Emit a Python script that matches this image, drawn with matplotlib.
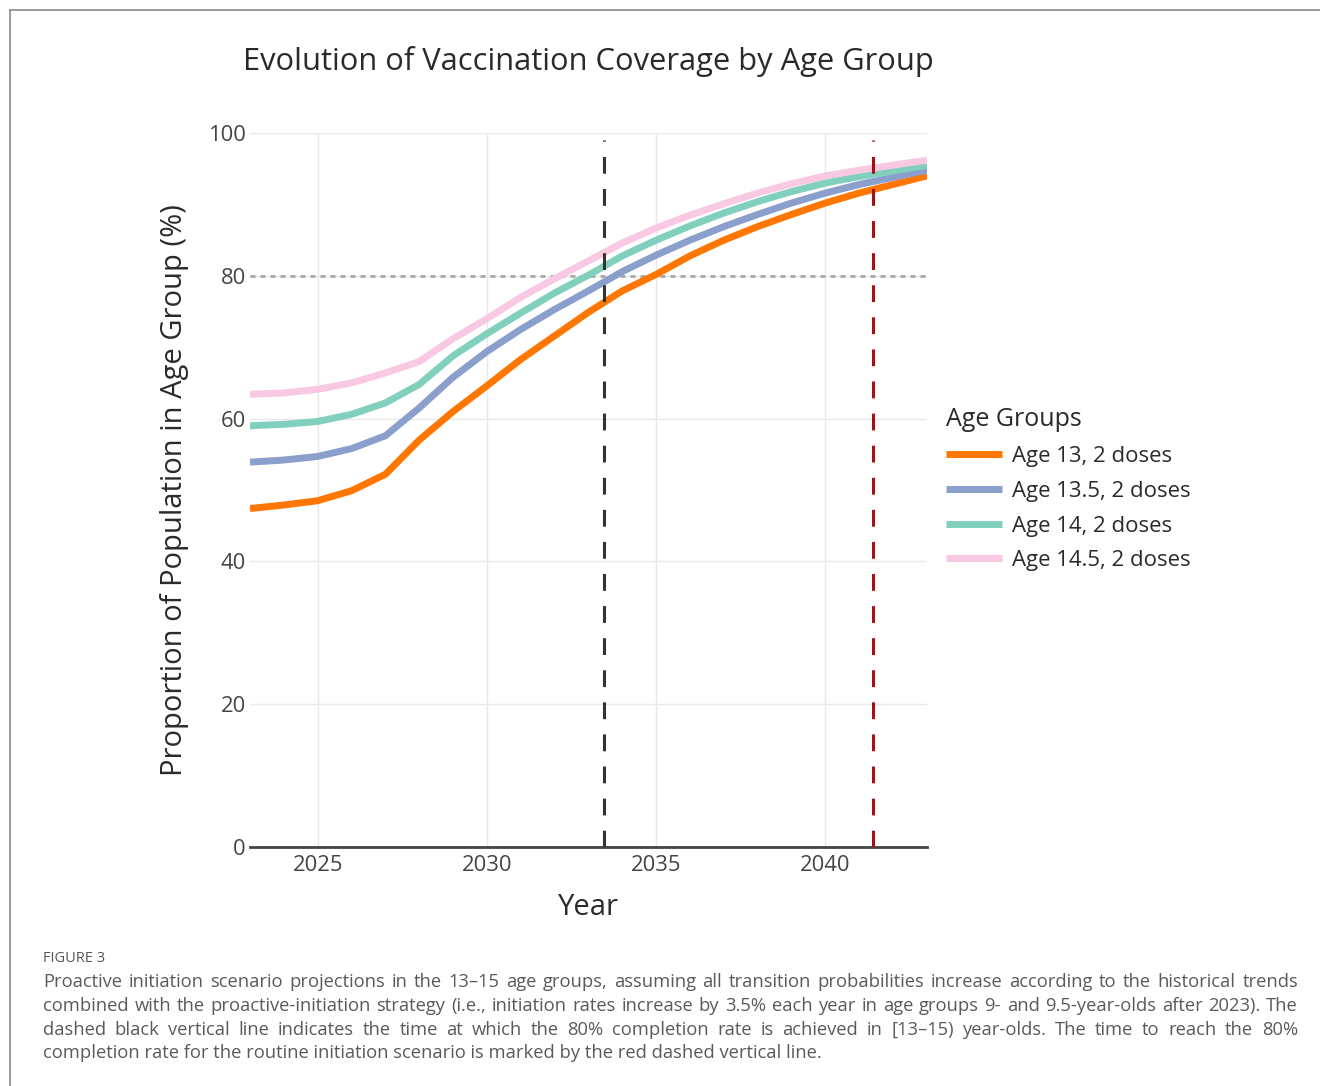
import numpy as np
import matplotlib
matplotlib.use('Agg')
import matplotlib.pyplot as plt
from matplotlib.lines import Line2D

plt.rcParams['font.family'] = ['Open Sans', 'DejaVu Sans']

years = np.arange(2023, 2044)
age13 = [47.4, 47.9, 48.5, 49.9, 52.2, 57.0, 61.0, 64.6, 68.3, 71.6, 74.9,
         77.9, 80.2, 82.8, 85.0, 86.9, 88.6, 90.2, 91.6, 92.8, 94.0]
age13_5 = [53.9, 54.2, 54.7, 55.8, 57.6, 61.5, 65.8, 69.4, 72.5, 75.3, 77.9,
           80.6, 82.9, 85.0, 86.9, 88.6, 90.2, 91.6, 92.8, 93.8, 94.8]
age14 = [59.0, 59.2, 59.6, 60.6, 62.2, 64.8, 68.8, 71.9, 74.8, 77.6, 80.1,
         82.8, 85.0, 87.0, 88.8, 90.4, 91.8, 93.0, 93.9, 94.7, 95.5]
age14_5 = [63.4, 63.6, 64.1, 65.0, 66.4, 68.0, 71.2, 74.0, 77.0, 79.6, 82.1,
           84.6, 86.7, 88.5, 90.1, 91.6, 92.9, 94.0, 94.8, 95.5, 96.2]
labels = ['Age 13, 2 doses', 'Age 13.5, 2 doses', 'Age 14, 2 doses', 'Age 14.5, 2 doses']
colors = ['#ff7700', '#8a9fcc', '#80d0bd', '#f9c8e2']
target = 80
proactive_year = 2033.45
routine_year = 2041.4

fig = plt.figure(figsize=(13.2, 10.86), dpi=100)
ax = fig.add_axes([0.1894, 0.2201, 0.5129, 0.6574])

for vals, lab, col in zip([age13, age13_5, age14, age14_5], labels, colors):
    ax.plot(years, vals, color=col, lw=5, label=lab, solid_capstyle='butt', zorder=3)

ax.axhline(target, color='#a8a8a8', lw=2, ls=(0, (1.8, 1.8)), zorder=2)
ax.axvline(proactive_year, ymin=0, ymax=0.99, color='#333333', lw=2.2,
           ls=(0, (5.5, 5)), zorder=4)
ax.axvline(routine_year, ymin=0, ymax=0.99, color='#a50f15', lw=2.2,
           ls=(0, (5.5, 5)), zorder=4)

ax.set_xlim(2023, 2043)
ax.set_ylim(0, 100)
ax.set_xticks([2025, 2030, 2035, 2040])
ax.set_yticks([0, 20, 40, 60, 80, 100])
ax.grid(True, color='#e9e9e9', lw=1)
ax.set_axisbelow(True)
for s in ['top', 'right', 'left']:
    ax.spines[s].set_visible(False)
ax.spines['bottom'].set_color('#444444')
ax.spines['bottom'].set_linewidth(2)
ax.tick_params(axis='x', length=0, pad=6, labelsize=15.8, labelcolor='#444444')
ax.tick_params(axis='y', length=0, pad=3, labelsize=15.8, labelcolor='#444444')

ax.set_xlabel('Year', fontsize=21, color='#2a2a2a', labelpad=12)
ax.set_ylabel('Proportion of Population in Age Group (%)', fontsize=21,
              color='#2a2a2a', labelpad=14)
fig.text(0.4455, 0.943, 'Evolution of Vaccination Coverage by Age Group',
         ha='center', va='center', fontsize=22.2, color='#2a2a2a')

leg = ax.legend(loc='upper left', bbox_to_anchor=(1.015, 0.628), frameon=False,
                fontsize=15.9, title='Age Groups', title_fontsize=18,
                handlelength=2.55, handletextpad=0.45, labelspacing=0.62,
                borderaxespad=0)
leg._legend_box.align = 'left'
for t in leg.get_texts():
    t.set_color('#2a2a2a')
leg.get_title().set_color('#2a2a2a')
for h in leg.legend_handles:
    h.set_linewidth(5)

# page frame
fig.add_artist(Line2D([0.0078, 0.0078], [0, 0.991], color='#8a8a8a', lw=1.2))
fig.add_artist(Line2D([0.0078, 1], [0.991, 0.991], color='#8a8a8a', lw=1.2))

# caption, justified line by line
fig.text(43 / 1320, 1 - 958 / 1086, 'FIGURE 3', fontsize=10.5, color='#555555',
         va='center', ha='left')
cap_lines = [
    'Proactive initiation scenario projections in the 13\u201315 age groups, assuming all transition probabilities increase according to the historical trends',
    'combined with the proactive-initiation strategy (i.e., initiation rates increase by 3.5% each year in age groups 9- and 9.5-year-olds after 2023). The',
    'dashed black vertical line indicates the time at which the 80% completion rate is achieved in [13\u201315) year-olds. The time to reach the 80%',
    'completion rate for the routine initiation scenario is marked by the red dashed vertical line.',
]
cap_y = [982, 1006, 1030, 1053]
cap_size = 13.2
x0, x1 = 43, 1298
renderer = fig.canvas.get_renderer()
for i, (line, yp) in enumerate(zip(cap_lines, cap_y)):
    y = 1 - yp / 1086
    if i == len(cap_lines) - 1:
        fig.text(x0 / 1320, y, line, fontsize=cap_size, color='#5a5a5a', va='center')
        continue
    words = line.split(' ')
    texts = [fig.text(0, y, w, fontsize=cap_size, color='#5a5a5a', va='center') for w in words]
    widths = [t.get_window_extent(renderer).width for t in texts]
    gap = (x1 - x0 - sum(widths)) / (len(words) - 1)
    xp = x0
    for t, w in zip(texts, widths):
        t.set_x(xp / 1320)
        xp += w + gap

fig.savefig('out.png', dpi=100)
